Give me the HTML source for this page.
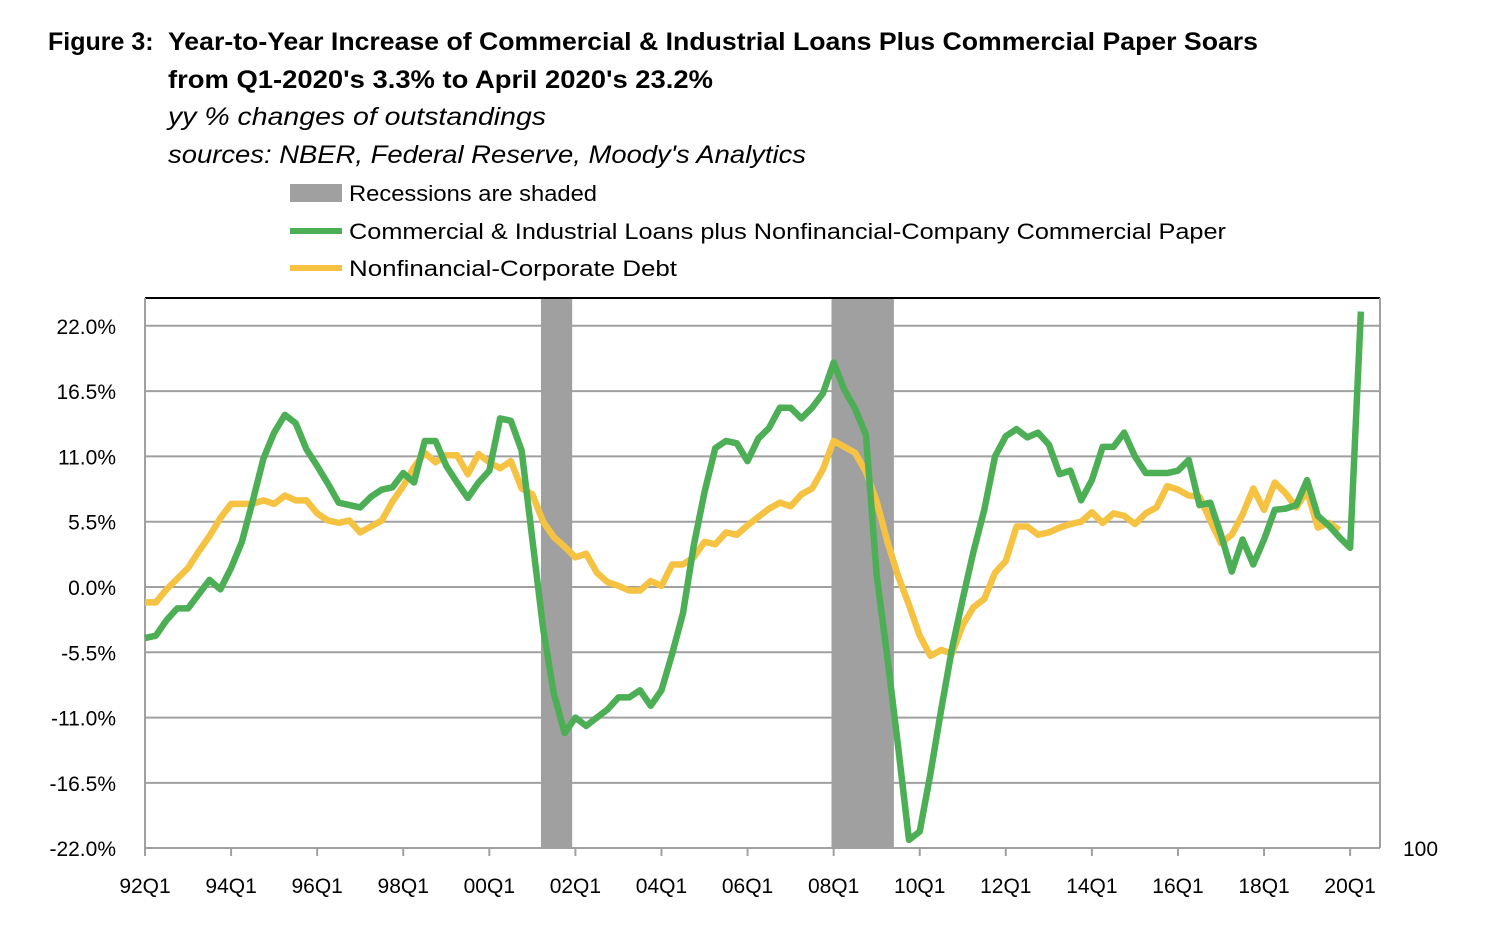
<!DOCTYPE html>
<html><head><meta charset="utf-8"><style>
body{margin:0;background:#fff;width:1491px;height:931px;overflow:hidden;font-family:"Liberation Sans",sans-serif;}
</style></head><body>
<svg width="1491" height="931" viewBox="0 0 1491 931">
<g font-family="Liberation Sans, sans-serif" fill="#000">
<text x="48" y="50" font-size="25" font-weight="bold">Figure 3:</text>
<text x="168" y="50" font-size="25" font-weight="bold" textLength="1090" lengthAdjust="spacingAndGlyphs">Year-to-Year Increase of Commercial &amp; Industrial Loans Plus Commercial Paper Soars</text>
<text x="168" y="88" font-size="25" font-weight="bold" textLength="545" lengthAdjust="spacingAndGlyphs">from Q1-2020's  3.3% to April 2020's  23.2%</text>
<text x="168" y="125" font-size="25" font-style="italic" textLength="378" lengthAdjust="spacingAndGlyphs">yy % changes of outstandings</text>
<text x="168" y="163" font-size="25" font-style="italic" textLength="638" lengthAdjust="spacingAndGlyphs">sources: NBER, Federal Reserve, Moody's Analytics</text>
<rect x="290" y="184" width="52" height="18" fill="#a0a0a0"/>
<text x="349" y="201" font-size="22" textLength="248" lengthAdjust="spacingAndGlyphs">Recessions are shaded</text>
<line x1="290" y1="231" x2="342" y2="231" stroke="#4caf55" stroke-width="6"/>
<text x="349" y="239" font-size="22" textLength="877" lengthAdjust="spacingAndGlyphs">Commercial &amp; Industrial Loans plus Nonfinancial-Company Commercial Paper</text>
<line x1="290" y1="268" x2="342" y2="268" stroke="#f5c242" stroke-width="6"/>
<text x="349" y="276" font-size="22" textLength="328" lengthAdjust="spacingAndGlyphs">Nonfinancial-Corporate Debt</text>
</g>
<g id="plot"></g>
</svg>
<script>
const green=[-4.3,-4.1,-2.8,-1.8,-1.8,-0.6,0.6,-0.2,1.6,3.8,7.2,10.8,13.0,14.5,13.8,11.6,10.2,8.7,7.1,6.9,6.7,7.6,8.2,8.4,9.6,8.8,12.3,12.3,10.2,8.8,7.5,8.8,9.8,14.2,14.0,11.5,4.0,-3.5,-9.0,-12.3,-11.0,-11.7,-11.0,-10.3,-9.3,-9.3,-8.7,-10.0,-8.7,-5.6,-2.2,3.5,8.0,11.7,12.3,12.1,10.6,12.5,13.4,15.1,15.1,14.2,15.1,16.3,18.9,16.6,15.0,12.8,1.0,-6.0,-13.5,-21.3,-20.6,-15.7,-10.3,-5.2,-1.0,3.0,6.5,11.0,12.7,13.3,12.6,13.0,12.0,9.5,9.8,7.3,9.0,11.8,11.8,13.0,11.0,9.6,9.6,9.6,9.8,10.7,6.9,7.1,4.4,1.3,4.0,1.9,4.0,6.5,6.6,6.9,9.0,6.0,5.2,4.2,3.3,23.2];
const yellow=[-1.3,-1.3,-0.2,0.7,1.6,3.0,4.3,5.8,7.0,7.0,7.0,7.3,7.0,7.7,7.3,7.3,6.2,5.6,5.4,5.6,4.6,5.1,5.6,7.2,8.5,10.1,11.3,10.5,11.1,11.1,9.5,11.2,10.5,10.0,10.6,8.3,7.8,5.5,4.2,3.4,2.5,2.8,1.2,0.4,0.1,-0.3,-0.3,0.5,0.1,1.9,1.9,2.5,3.8,3.6,4.6,4.4,5.2,5.9,6.6,7.1,6.8,7.8,8.3,9.9,12.3,11.8,11.3,9.7,7.2,3.8,0.9,-1.5,-4.1,-5.8,-5.3,-5.6,-3.2,-1.7,-1.0,1.2,2.2,5.1,5.1,4.4,4.6,5.0,5.3,5.5,6.3,5.4,6.2,6.0,5.3,6.2,6.7,8.5,8.2,7.7,7.6,5.6,3.7,4.4,6.1,8.3,6.5,8.8,7.9,6.7,8.1,5.0,5.4,4.8];
const yTicks=[22,16.5,11,5.5,0,-5.5,-11,-16.5,-22];
const xLabels=["92Q1","94Q1","96Q1","98Q1","00Q1","02Q1","04Q1","06Q1","08Q1","10Q1","12Q1","14Q1","16Q1","18Q1","20Q1"];
const recessionStarts=[36.8,63.8];
const recessionEnds=[39.7,69.6];
const X=q=>145+q*10.76;
const Y=v=>587-v*65.3/5.5;
const NS="http://www.w3.org/2000/svg";
const g=document.getElementById('plot');
function mk(t,a){const e=document.createElementNS(NS,t);for(const k in a)e.setAttribute(k,a[k]);g.appendChild(e);return e;}
recessionStarts.forEach((s,i)=>{const e=mk('rect',{x:X(s),y:298,width:X(recessionEnds[i])-X(s),height:550,fill:'#a0a0a0'});

});
yTicks.forEach(v=>{if(v!==-22){const l=mk('line',{x1:145,x2:1380,y1:Y(v),y2:Y(v),stroke:'#a0a0a0','stroke-width':2});

}
const t=mk('text',{x:116,y:Y(v)+8,'text-anchor':'end','font-size':21,'font-family':'Liberation Sans, sans-serif'});t.textContent=v.toFixed(1)+'%';

});
let e=mk('line',{x1:145,x2:1380,y1:298,y2:298,stroke:'#000','stroke-width':2});


e=mk('line',{x1:145,x2:145,y1:298,y2:848,stroke:'#a0a0a0','stroke-width':2});


e=mk('line',{x1:1380,x2:1380,y1:298,y2:848,stroke:'#a0a0a0','stroke-width':2});


e=mk('line',{x1:145,x2:1380,y1:848,y2:848,stroke:'#a0a0a0','stroke-width':2});


xLabels.forEach((s,i)=>{const x=X(i*8);const l=mk('line',{x1:x,x2:x,y1:848,y2:856,stroke:'#a0a0a0','stroke-width':2});


const t=mk('text',{x:x,y:893,'text-anchor':'middle','font-size':21,'font-family':'Liberation Sans, sans-serif'});t.textContent=s;

});
e=mk('text',{x:1403,y:856,'font-size':21,'font-family':'Liberation Sans, sans-serif'});e.textContent='100';


function line(d,c,n){const p=mk('polyline',{points:d.map((v,i)=>X(i)+','+Y(v)).join(' '),fill:'none',stroke:c,'stroke-width':6.5,'stroke-linejoin':'round'});

}
line(yellow,'#f5c242','nonfinancial-debt-line');
line(green,'#4caf55','ci-loans-line');
</script>
</body></html>
